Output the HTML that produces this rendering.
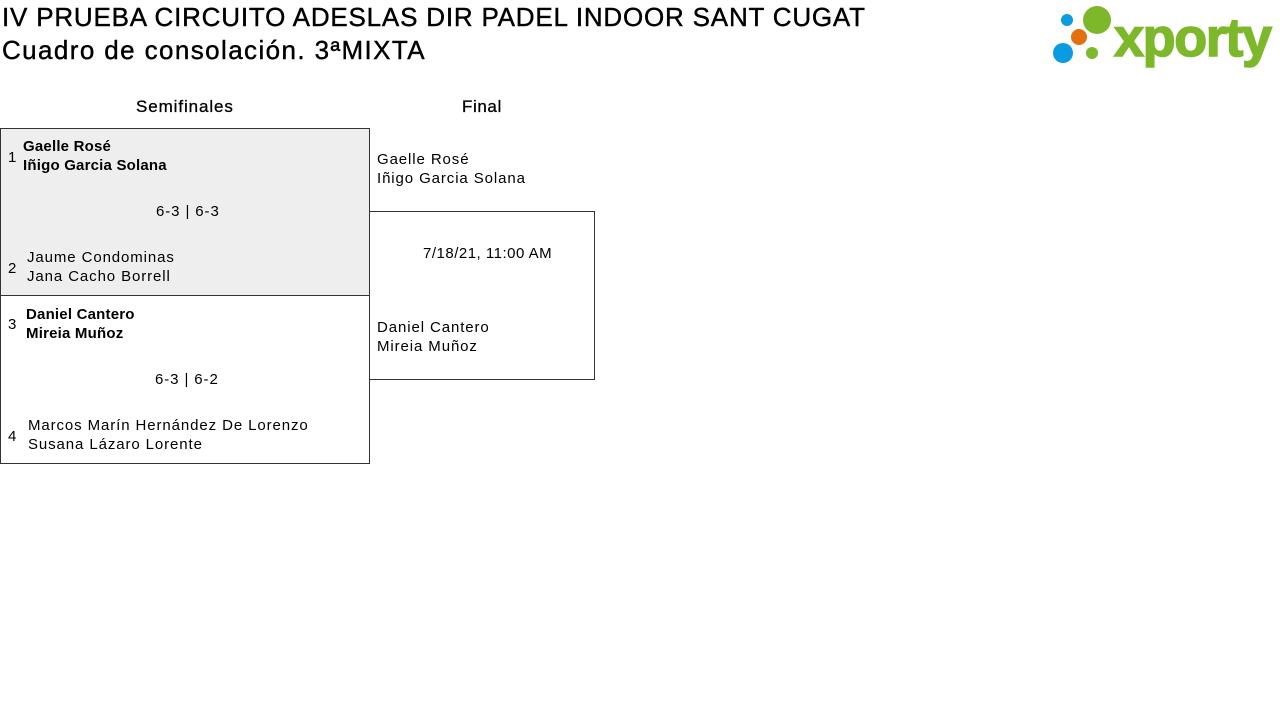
<!DOCTYPE html>
<html><head><meta charset="utf-8"><style>
body{margin:0;width:1280px;height:727px;background:#fff;font-family:"Liberation Sans",sans-serif;color:#000;position:relative;overflow:hidden}
.a{position:absolute;white-space:nowrap}
.t{font-size:26px;letter-spacing:0.8px;-webkit-text-stroke:0.4px #000}
.n{font-size:15px;line-height:19px;letter-spacing:0.9px}
.b{font-weight:bold;letter-spacing:0.2px}
.box{position:absolute;border:1px solid #333;box-sizing:border-box}
</style></head><body>
<div class="a t" style="left:2px;top:2px">IV PRUEBA CIRCUITO ADESLAS DIR PADEL INDOOR SANT CUGAT</div>
<div class="a t" style="left:2px;top:35px;letter-spacing:1.4px">Cuadro de consolación. 3ªMIXTA</div>
<svg class="a" style="left:1050px;top:4px" width="226" height="64" viewBox="0 0 226 64">
<circle cx="17" cy="16" r="6" fill="#0a9be0"/>
<circle cx="47" cy="16" r="14" fill="#7cb82a"/>
<circle cx="29" cy="33" r="8" fill="#e2700f"/>
<circle cx="13" cy="49" r="10" fill="#0a9be0"/>
<circle cx="42" cy="49" r="6" fill="#7cb82a"/>
<text x="64" y="52" font-family="Liberation Sans,sans-serif" font-weight="bold" font-size="54" fill="#7cb82a" stroke="#7cb82a" stroke-width="1.5" textLength="158">xporty</text>
</svg>
<div class="a" style="left:136px;top:97px;font-size:17px;letter-spacing:0.9px;-webkit-text-stroke:0.3px #000">Semifinales</div>
<div class="a" style="left:462px;top:97px;font-size:17px;letter-spacing:0.6px;-webkit-text-stroke:0.3px #000">Final</div>

<div class="box" style="left:0;top:128px;width:370px;height:168px;background:#eee"></div>
<div class="box" style="left:0;top:295px;width:370px;height:169px"></div>
<div class="box" style="left:369px;top:211px;width:226px;height:169px"></div>

<div class="a n" style="left:8px;top:148px">1</div>
<div class="a n b" style="left:23px;top:137px">Gaelle Rosé<br>Iñigo Garcia Solana</div>
<div class="a n" style="left:156px;top:202px">6-3 | 6-3</div>
<div class="a n" style="left:8px;top:259px">2</div>
<div class="a n" style="left:27px;top:248px">Jaume Condominas<br>Jana Cacho Borrell</div>

<div class="a n" style="left:8px;top:315px">3</div>
<div class="a n b" style="left:26px;top:305px">Daniel Cantero<br>Mireia Muñoz</div>
<div class="a n" style="left:155px;top:370px">6-3 | 6-2</div>
<div class="a n" style="left:8px;top:427px">4</div>
<div class="a n" style="left:28px;top:416px">Marcos Marín Hernández De Lorenzo<br>Susana Lázaro Lorente</div>

<div class="a n" style="left:377px;top:150px">Gaelle Rosé<br>Iñigo Garcia Solana</div>
<div class="a n" style="left:423px;top:244px;letter-spacing:0.5px">7/18/21, 11:00 AM</div>
<div class="a n" style="left:377px;top:318px">Daniel Cantero<br>Mireia Muñoz</div>
</body></html>
